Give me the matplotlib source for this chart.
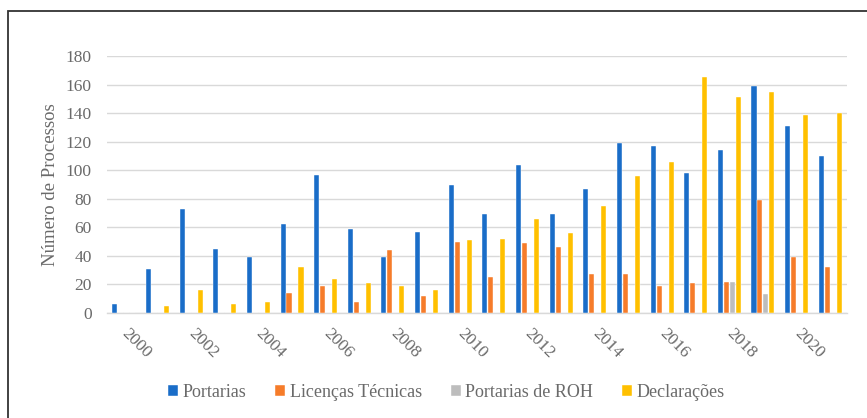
import numpy as np
import matplotlib.pyplot as plt
from matplotlib.patches import Rectangle

plt.rcParams['font.family'] = 'serif'
plt.rcParams['font.serif'] = ['Liberation Serif', 'DejaVu Serif']

years = list(range(2000, 2022))
portarias = [6, 31, 73, 45, 39, 62, 97, 59, 39, 57, 90, 69, 104, 69, 87, 119, 117, 98, 114, 159, 131, 110]
licencas = [0, 0, 0, 0, 0, 14, 19, 8, 44, 12, 50, 25, 49, 46, 27, 27, 19, 21, 22, 79, 39, 32]
portarias_roh = [0, 0, 0, 0, 0, 0, 0, 0, 0, 0, 0, 0, 0, 0, 0, 0, 0, 0, 22, 13, 0, 0]
declaracoes = [0, 5, 16, 6, 8, 32, 24, 21, 19, 16, 51, 52, 66, 56, 75, 96, 106, 165, 151, 155, 139, 140]

series = [
    ("Portarias", portarias, "#1A6DC8"),
    ("Licenças Técnicas", licencas, "#F67C2A"),
    ("Portarias de ROH", portarias_roh, "#BDBDBD"),
    ("Declarações", declaracoes, "#FFC000"),
]

text_col = "#6A6A6A"
grid_col = "#D9D9D9"

fig = plt.figure(figsize=(8.67, 4.18), dpi=100)
ax = fig.add_axes([0.1234, 0.2512, 0.8536, 0.6148])

x = np.arange(len(years))
step = 0.178
width = 0.15
for i, (name, vals, col) in enumerate(series):
    ax.bar(x + (i - 1.5) * step, vals, width, color=col, label=name,
           edgecolor="white", linewidth=0.3, zorder=3)

ax.set_xlim(-0.5, len(years) - 0.5)
ax.set_ylim(0, 180)
ax.set_yticks(range(0, 181, 20))
ax.yaxis.grid(True, color=grid_col, linewidth=1.0, zorder=0)
ax.set_axisbelow(True)

for side in ["top", "right", "left"]:
    ax.spines[side].set_visible(False)
ax.spines["bottom"].set_color(grid_col)
ax.spines["bottom"].set_linewidth(1.0)

ax.set_xticks(x[::2])
ax.set_xticklabels([str(y) for y in years[::2]], rotation=-45,
                   ha="left", va="center", rotation_mode="anchor")
ax.tick_params(axis="x", length=0, pad=13, labelsize=12.5, labelcolor=text_col)
ax.tick_params(axis="y", length=0, pad=11, labelsize=12.5, labelcolor=text_col)

ax.set_ylabel("Número de Processos", fontsize=13.5, color=text_col, labelpad=5)

leg = fig.legend(loc="center", bbox_to_anchor=(0.515, 0.062), ncol=4,
                 frameon=False, fontsize=13, handlelength=0.55, handleheight=0.55,
                 handletextpad=0.25, columnspacing=1.6)
for t in leg.get_texts():
    t.set_color(text_col)

# outer frame, running off the right and bottom edges
fig.patches.append(Rectangle((8 / 867, -0.05), 1.05, 1 - 11 / 418 + 0.05,
                             transform=fig.transFigure, fill=False,
                             edgecolor="#333333", linewidth=1.3, clip_on=False))

fig.savefig("out.png", dpi=100)
